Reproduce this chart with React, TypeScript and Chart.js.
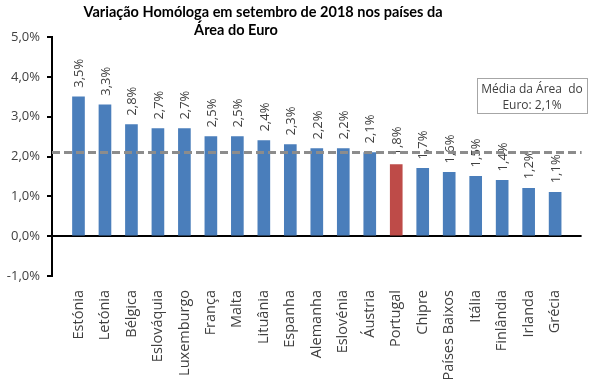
import React, { useEffect, useRef } from 'react';
import { Chart, registerables } from 'chart.js';

Chart.register(...registerables);

const categories = ['Estónia', 'Letónia', 'Bélgica', 'Eslováquia', 'Luxemburgo', 'França', 'Malta', 'Lituânia', 'Espanha', 'Alemanha', 'Eslovénia', 'Áustria', 'Portugal', 'Chipre', 'Países Baixos', 'Itália', 'Finlândia', 'Irlanda', 'Grécia'];
const values = [3.5, 3.3, 2.8, 2.7, 2.7, 2.5, 2.5, 2.4, 2.3, 2.2, 2.2, 2.1, 1.8, 1.7, 1.6, 1.5, 1.4, 1.2, 1.1];
const highlighted = 'Portugal';
const euroAverage = 2.1;
const yMin = -1;
const yMax = 5;
const yStep = 1;
const titleLines = ['Variação Homóloga em setembro de 2018 nos países da', 'Área do Euro'];
const noteLines = ['Média da Área  do', 'Euro: 2,1%'];

const fmt = (v: number) => v.toFixed(1).replace('.', ',') + '%';

const BLUE = '#4a7ebb';
const RED = '#be4b48';
const TEXT = '#404040';

export default function App() {
  const ref = useRef<HTMLCanvasElement>(null);

  useEffect(() => {
    document.body.style.margin = '0';
    const canvas = ref.current!;
    const labels = ['', ...categories, ''];
    const data = [null, ...values, null];
    const colors = labels.map((l) => (l === highlighted ? RED : BLUE));

    const overlay = {
      id: 'overlay',
      afterDatasetsDraw(chart: any) {
        const { ctx } = chart;
        const meta = chart.getDatasetMeta(0);
        ctx.save();
        ctx.font = '13px "Open Sans"';
        ctx.fillStyle = TEXT;
        ctx.textAlign = 'left';
        ctx.textBaseline = 'middle';
        meta.data.forEach((bar: any, i: number) => {
          const v = data[i];
          if (v == null) return;
          ctx.save();
          ctx.translate(bar.x + 1, bar.y - 9);
          ctx.rotate(-Math.PI / 2);
          ctx.fillText(fmt(v), 0, 0);
          ctx.restore();
        });
        ctx.restore();
      },
      afterDraw(chart: any) {
        const { ctx, chartArea } = chart;
        const yScale = chart.scales.y;
        const ya = yScale.getPixelForValue(euroAverage);
        ctx.save();
        ctx.strokeStyle = '#8c8c8c';
        ctx.lineWidth = 3;
        ctx.setLineDash([8, 4]);
        ctx.beginPath();
        ctx.moveTo(chartArea.left, ya);
        ctx.lineTo(chartArea.right, ya);
        ctx.stroke();
        ctx.restore();

        ctx.save();
        ctx.font = 'bold 14.5px Lato';
        ctx.fillStyle = '#000';
        ctx.textAlign = 'center';
        ctx.textBaseline = 'alphabetic';
        ctx.fillText(titleLines[0], 263, 17);
        ctx.fillText(titleLines[1], 236, 35);
        ctx.restore();

        ctx.save();
        ctx.fillStyle = '#fff';
        ctx.fillRect(477, 78, 110, 35);
        ctx.strokeStyle = '#a6a6a6';
        ctx.lineWidth = 1;
        ctx.strokeRect(477.5, 78.5, 110, 35);
        ctx.font = '12px "Open Sans"';
        ctx.fillStyle = TEXT;
        ctx.textAlign = 'center';
        ctx.fillText(noteLines[0], 532, 93);
        ctx.fillText(noteLines[1], 532, 109);
        ctx.restore();
      },
    };

    const chart = new Chart(canvas, {
      type: 'bar',
      data: {
        labels,
        datasets: [
          {
            data,
            backgroundColor: colors,
            borderWidth: 0,
            barThickness: 12,
          },
        ],
      },
      options: {
        responsive: false,
        animation: false,
        layout: { padding: { top: 37, right: 12, left: 0, bottom: 0 } },
        plugins: {
          legend: { display: false },
          tooltip: { enabled: false },
          title: { display: false },
        },
        scales: {
          x: {
            offset: false,
            grid: { display: false },
            border: { display: false },
            ticks: {
              autoSkip: false,
              minRotation: 90,
              maxRotation: 90,
              padding: 6,
              color: TEXT,
              font: { family: 'Open Sans', size: 14.5 },
            },
            afterFit(scale: any) {
              scale.height = 111;
            },
          },
          y: {
            min: yMin,
            max: yMax,
            z: 1,
            ticks: {
              stepSize: yStep,
              padding: 7,
              color: TEXT,
              font: { family: 'Open Sans', size: 13 },
              callback: (v: any) => fmt(Number(v)),
            },
            grid: {
              drawOnChartArea: true,
              drawTicks: true,
              tickLength: 5,
              tickColor: '#000',
              tickWidth: 2,
              color: (c: any) => (c.tick && c.tick.value === 0 ? '#000' : 'rgba(0,0,0,0)'),
              lineWidth: 2,
            },
            border: { display: true, color: '#000', width: 2 },
            afterFit(scale: any) {
              scale.width = 52;
            },
          },
        },
      },
      plugins: [overlay],
    });
    return () => chart.destroy();
  }, []);

  return <canvas ref={ref} width={605} height={387} style={{ display: 'block' }} />;
}
